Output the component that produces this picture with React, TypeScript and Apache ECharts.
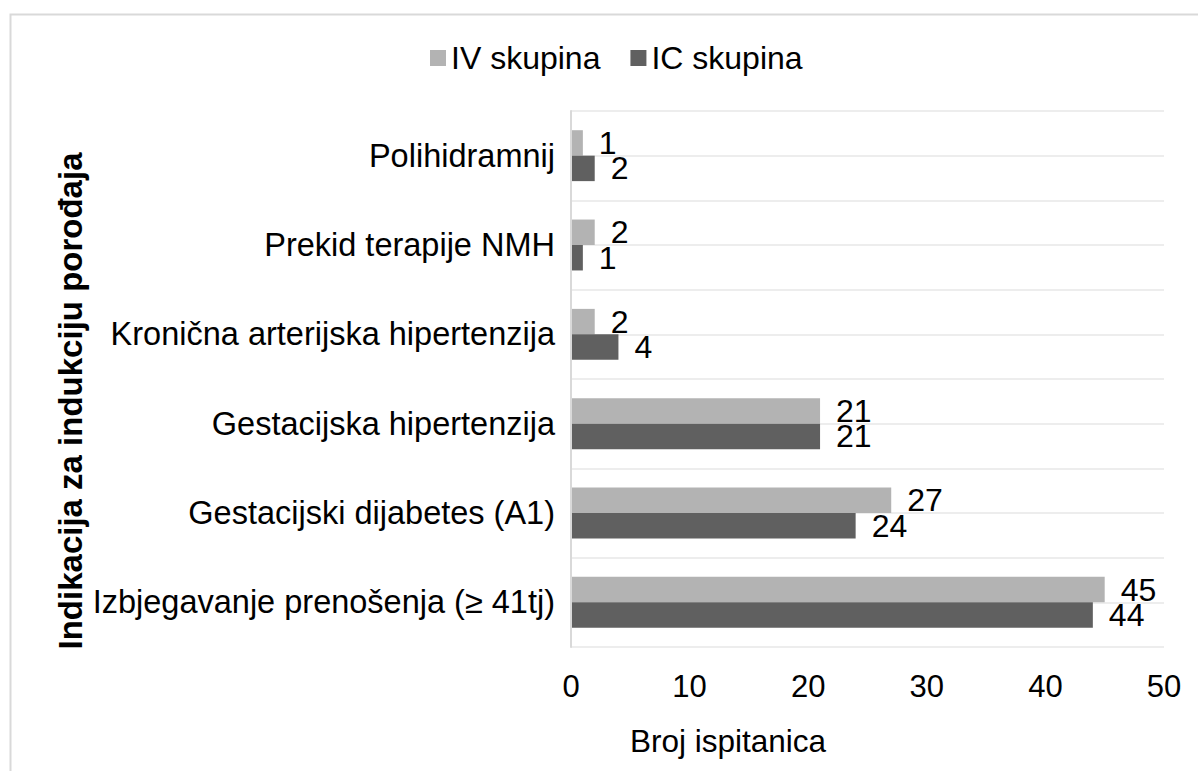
import React, { useEffect, useRef } from "react";
import * as echarts from "echarts";

const categories = [
  "Izbjegavanje prenošenja (≥ 41tj)",
  "Gestacijski dijabetes (A1)",
  "Gestacijska hipertenzija",
  "Kronična arterijska hipertenzija",
  "Prekid terapije NMH",
  "Polihidramnij",
];
const ivValues = [45, 27, 21, 2, 2, 1];
const icValues = [44, 24, 21, 4, 1, 2];
const seriesNames = ["IV skupina", "IC skupina"];
const xTicks = { min: 0, max: 50, interval: 10 };
const xTitle = "Broj ispitanica";
const yTitle = "Indikacija za indukciju porođaja";

const FONT = "'Liberation Sans', Arial, sans-serif";

export default function App() {
  const ref = useRef<HTMLDivElement>(null);
  useEffect(() => {
    if (!ref.current) return;
    const chart = echarts.init(ref.current, undefined, { renderer: "svg" });
    const labelStyle = {
      show: true,
      position: "right",
      distance: 16,
      fontSize: 32,
      lineHeight: 24,
      color: "#000",
      fontFamily: FONT,
    };
    chart.setOption({
      animation: false,
      backgroundColor: "#fff",
      textStyle: { fontFamily: FONT },
      legend: {
        left: 425,
        top: 37,
        icon: "rect",
        itemWidth: 16,
        itemHeight: 16,
        itemGap: 30,
        textStyle: { fontSize: 32, color: "#000", fontFamily: FONT },
        data: seriesNames,
      },
      grid: { left: 571, right: 34, top: 111, bottom: 124, containLabel: false },
      xAxis: {
        type: "value",
        min: xTicks.min,
        max: xTicks.max,
        interval: xTicks.interval,
        axisLine: { show: false },
        axisTick: { show: false },
        splitLine: { show: false },
        axisLabel: { fontSize: 31, color: "#000", margin: 24, fontFamily: FONT },
      },
      yAxis: [
        {
          type: "category",
          data: categories,
          z: 5,
          axisLine: { show: true, lineStyle: { color: "#d9d9d9", width: 2 } },
          axisTick: { show: false },
          splitLine: { show: false },
          axisLabel: { fontSize: 32.5, color: "#000", margin: 16, fontFamily: FONT },
        },
        {
          type: "value",
          min: 0,
          max: 12,
          interval: 1,
          position: "right",
          axisLine: { show: false },
          axisTick: { show: false },
          axisLabel: { show: false },
          splitLine: { show: true, lineStyle: { color: "#ededed", width: 2 } },
        },
      ],
      series: [
        {
          name: seriesNames[0],
          type: "bar",
          yAxisIndex: 0,
          data: ivValues,
          barGap: "0%",
          barCategoryGap: "43%",
          itemStyle: { color: "#b3b3b3" },
          label: labelStyle,
        },
        {
          name: seriesNames[1],
          type: "bar",
          yAxisIndex: 0,
          data: icValues,
          barGap: "0%",
          barCategoryGap: "43%",
          itemStyle: { color: "#606060" },
          label: labelStyle,
        },
      ],
      graphic: [
        {
          type: "rect",
          shape: { x: 10.5, y: 14.5, width: 1400, height: 900 },
          style: { fill: "none", stroke: "#d9d9d9", lineWidth: 2 },
          silent: true,
        },
        {
          type: "text",
          x: 70,
          y: 401,
          rotation: Math.PI / 2,
          style: {
            text: yTitle,
            fontSize: 33,
            fontWeight: "bold",
            fill: "#000",
            fontFamily: FONT,
            textAlign: "center",
            textVerticalAlign: "middle",
          },
        },
        {
          type: "text",
          x: 728,
          y: 741,
          style: {
            text: xTitle,
            fontSize: 31.5,
            fill: "#000",
            fontFamily: FONT,
            textAlign: "center",
            textVerticalAlign: "middle",
          },
        },
      ],
    });
    return () => chart.dispose();
  }, []);
  return (
    <div
      ref={ref}
      style={{ position: "absolute", left: 0, top: 0, width: 1198, height: 771 }}
    />
  );
}
